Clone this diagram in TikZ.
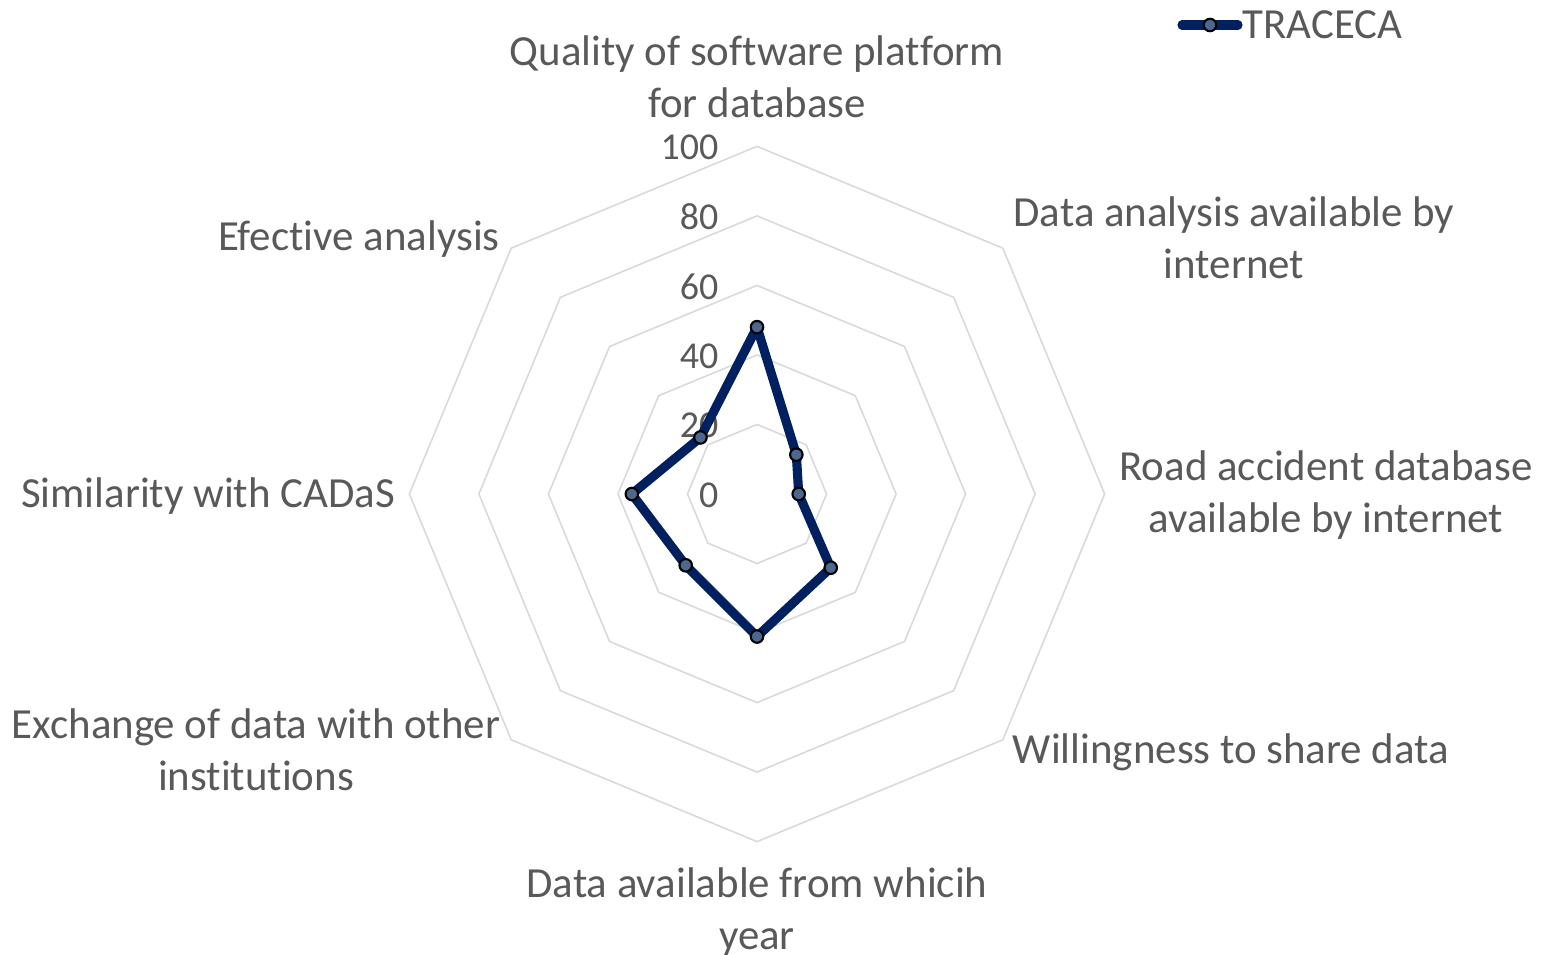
\documentclass[tikz,border=0pt]{standalone}
\usepackage{fontspec}
\setmainfont{Carlito}[Ligatures=CommonOff]
\usetikzlibrary{calc}

\definecolor{navy}{HTML}{002060}
\definecolor{gridgrey}{HTML}{D9D9D9}
\definecolor{textgrey}{HTML}{595959}
\definecolor{markblue}{HTML}{4A6890}

\tikzset{
  gridline/.style={draw=gridgrey, line width=0.45pt},
  dataline/.style={draw=navy, line width=2.6pt, line join=round},
  datamark/.style={circle, draw=black, line width=0.6pt, fill=markblue,
    inner sep=0pt, minimum size=1.25mm},
  axislabel/.style={text=textgrey, align=center, inner sep=0pt,
    font=\fontsize{12.2}{14.7}\selectfont},
  ticklabel/.style={axislabel, anchor=east, font=\fontsize{10.8}{13}\selectfont}
}

\begin{document}
\begin{tikzpicture}[x=0.01cm, y=-0.01cm]
			\useasboundingbox (0,0) rectangle (1542,955);
			\coordinate (O) at (757,494);

			% octagon rings
			\begin{scope}[shift={(O)}]
				\foreach \v in {20,40,...,100}
					\draw[gridline] (90:\v*0.03475cm)
						\foreach \a in {45,0,-45,-90,-135,-180,-225}{ -- (\a:\v*0.03475cm)} -- cycle;

				\foreach \v [count=\i] in {48,16,12,30,41,29,36,23}
					\coordinate (p\i) at ({90-45*(\i-1)}:\v*0.03475cm);
			\end{scope}

			\foreach \v in {0,20,...,100}
				\node[ticklabel] (t\v) at (719,{495-3.475*\v}) {\v};

			% series
			\draw[dataline] (p1) -- (p2) -- (p3) -- (p4) -- (p5) -- (p6) -- (p7) -- (p8) -- cycle;
			\foreach \i in {1,...,8}
				\node[datamark] (m\i) at (p\i) {};

			% category labels
			\node[axislabel] (quality) at (757,77) {Quality of software platform\\for database};
			\node[axislabel] (analysis) at (1234,238) {Data analysis available by\\internet};
			\node[axislabel] (road) at (1326,495) {Road accident database\\available by internet};
			\node[axislabel] (willing) at (1231,752) {Willingness to share data};
			\node[axislabel] (year) at (757,912) {Data available from whicih\\year};
			\node[axislabel] (exchange) at (256,750) {Exchange of data with other\\institutions};
			\node[axislabel] (similar) at (208,496) {Similarity with CADaS};
			\node[axislabel] (efective) at (359,239) {Efective analysis};

			% legend
			\coordinate (legA) at (1182,25);
			\coordinate (legB) at (1238,25);
			\draw[dataline, line cap=round] (legA) -- (legB);
			\node[datamark] (legm) at (1210,25) {};
			\node[axislabel, anchor=west] (legtext) at (1242,25) {TRACECA};
		\end{tikzpicture}
\end{document}
